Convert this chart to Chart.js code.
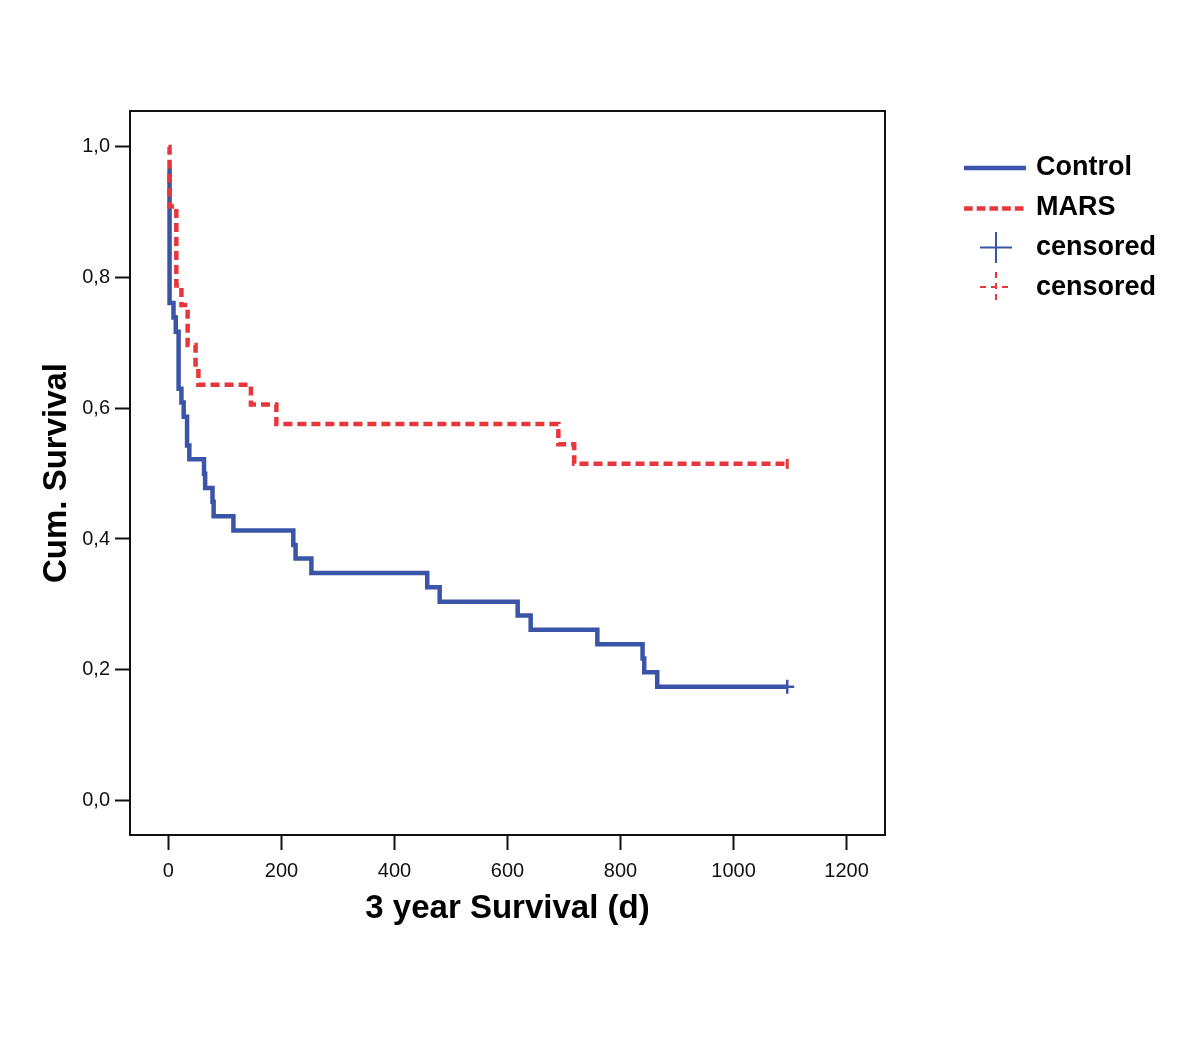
<!DOCTYPE html>
<html>
<head>
<meta charset="utf-8">
<script src="https://cdn.jsdelivr.net/npm/chart.js@4.4.1/dist/chart.umd.min.js"></script>
<style>
html,body{margin:0;padding:0;background:#fff;}
#wrap{width:1200px;height:1050px;position:relative;}
</style>
</head>
<body>
<div id="wrap"><canvas id="c" width="1200" height="1050"></canvas></div>
<script>
// ---- data ----
const controlDays = [0, 2, 9, 13, 18, 23, 27, 33, 37, 63, 65, 78, 80, 115, 221, 225, 253, 458, 480, 618, 641, 759, 839, 842, 865, 1095];
const controlSurv = [0.967, 0.761, 0.739, 0.717, 0.630, 0.609, 0.587, 0.543, 0.522, 0.500, 0.478, 0.457, 0.435, 0.413, 0.391, 0.370, 0.348, 0.326, 0.304, 0.283, 0.261, 0.239, 0.217, 0.196, 0.174, 0.174];
const marsDays = [0, 2, 14, 23, 34, 48, 53, 146, 191, 690, 718, 1095];
const marsSurv = [1.0, 0.909, 0.788, 0.758, 0.697, 0.667, 0.636, 0.606, 0.576, 0.545, 0.515, 0.515];
const controlCensoredDays = [1095];
const controlCensoredSurv = [0.174];
const marsCensoredDays = [1095];
const marsCensoredSurv = [0.515];
const xTicks = [0, 200, 400, 600, 800, 1000, 1200];
const yTicks = [0, 0.2, 0.4, 0.6, 0.8, 1.0];
const yTickLabels = ['0,0', '0,2', '0,4', '0,6', '0,8', '1,0'];
const seriesNames = ['Control', 'MARS'];
const censoredLabel = 'censored';
const xTitle = '3 year Survival (d)';
const yTitle = 'Cum. Survival';

const BLUE = '#3a55a8';
const RED = '#e8363c';
const FONT = '"Liberation Sans", Arial, sans-serif';

const toXY = (xs, ys) => xs.map((x, i) => ({x: x, y: ys[i]}));

const framePlugin = {
  id: 'frame',
  afterDatasetsDraw(chart) {
    const {ctx, chartArea: a} = chart;
    ctx.save();
    ctx.strokeStyle = '#111';
    ctx.lineWidth = 2;
    ctx.setLineDash([]);
    ctx.strokeRect(a.left, a.top, a.right - a.left, a.bottom - a.top);
    ctx.restore();
  }
};

const legendPlugin = {
  id: 'kmLegend',
  afterDraw(chart) {
    const ctx = chart.ctx;
    ctx.save();
    const seg = (x1, y1, x2, y2) => { ctx.beginPath(); ctx.moveTo(x1, y1); ctx.lineTo(x2, y2); ctx.stroke(); };
    ctx.font = 'bold 27px ' + FONT;
    ctx.fillStyle = '#000';
    ctx.textBaseline = 'middle';
    ctx.textAlign = 'left';
    const tx = 1036;
    ctx.lineCap = 'butt';
    // Control
    ctx.strokeStyle = BLUE; ctx.lineWidth = 4.5; ctx.setLineDash([]);
    seg(964, 168, 1026, 168);
    ctx.fillText(seriesNames[0], tx, 167.5);
    // MARS
    ctx.strokeStyle = RED; ctx.lineWidth = 4.5; ctx.setLineDash([8.7, 4]);
    seg(964, 208.5, 1026, 208.5);
    ctx.fillText(seriesNames[1], tx, 208);
    // censored control
    ctx.strokeStyle = BLUE; ctx.lineWidth = 2; ctx.setLineDash([]);
    seg(980, 247.5, 1012, 247.5);
    seg(996, 232, 996, 263);
    ctx.fillText(censoredLabel, tx, 247.5);
    // censored MARS
    ctx.strokeStyle = RED; ctx.lineWidth = 2; ctx.setLineDash([6, 5]);
    seg(980, 287, 1012, 287);
    seg(996, 272, 996, 303);
    ctx.fillText(censoredLabel, tx, 287.5);
    ctx.restore();
  }
};

new Chart(document.getElementById('c'), {
  type: 'line',
  data: {
    datasets: [
      {
        label: seriesNames[0] + ' ' + censoredLabel,
        data: toXY(controlCensoredDays, controlCensoredSurv),
        showLine: false,
        pointStyle: 'cross',
        pointRadius: 7,
        pointBorderWidth: 2.5,
        borderColor: BLUE,
        backgroundColor: BLUE,
        order: -1
      },
      {
        label: seriesNames[1] + ' ' + censoredLabel,
        data: toXY(marsCensoredDays, marsCensoredSurv),
        showLine: false,
        pointStyle: 'line',
        pointRotation: 90,
        pointRadius: 5,
        pointBorderWidth: 3,
        borderColor: RED,
        backgroundColor: RED,
        order: -1
      },
      {
        label: seriesNames[1],
        data: toXY(marsDays, marsSurv),
        stepped: true,
        borderColor: RED,
        borderWidth: 4.5,
        borderDash: [9, 5],
        borderCapStyle: 'butt',
        borderJoinStyle: 'miter',
        pointRadius: 0,
        fill: false,
        order: 0
      },
      {
        label: seriesNames[0],
        data: toXY(controlDays, controlSurv),
        stepped: true,
        borderColor: BLUE,
        borderWidth: 4.5,
        borderCapStyle: 'butt',
        borderJoinStyle: 'miter',
        pointRadius: 0,
        fill: false,
        order: 1
      }
    ]
  },
  options: {
    responsive: false,
    animation: false,
    devicePixelRatio: 1,
    layout: {padding: {top: 111, right: 315, left: 0, bottom: 0}},
    plugins: {legend: {display: false}, tooltip: {enabled: false}},
    scales: {
      x: {
        type: 'linear',
        min: -68,
        max: 1268,
        afterFit(s) { s.height = 215; },
        afterBuildTicks(s) { s.ticks = xTicks.map(v => ({value: v})); },
        grid: {drawOnChartArea: false, drawTicks: true, tickLength: 15, tickWidth: 2, tickColor: '#111'},
        border: {display: false},
        ticks: {font: {family: FONT, size: 20}, color: '#111', padding: 9, maxRotation: 0, autoSkip: false,
                callback: v => String(v)},
        title: {display: true, text: xTitle, font: {family: FONT, size: 33, weight: 'bold', lineHeight: 1.2},
                color: '#000', padding: {top: 0, bottom: 121}}
      },
      y: {
        type: 'linear',
        min: -0.053,
        max: 1.055,
        afterFit(s) { s.width = 130; },
        afterBuildTicks(s) { s.ticks = yTicks.map(v => ({value: v})); },
        grid: {drawOnChartArea: false, drawTicks: true, tickLength: 15, tickWidth: 2, tickColor: '#111'},
        border: {display: false},
        ticks: {font: {family: FONT, size: 20}, color: '#111', padding: 5, autoSkip: false,
                callback: function(v) { const i = yTicks.findIndex(t => Math.abs(t - v) < 1e-9); return i >= 0 ? yTickLabels[i] : ''; }},
        title: {display: true, text: yTitle, font: {family: FONT, size: 33, weight: 'bold', lineHeight: 1.2},
                color: '#000', padding: {top: 37, bottom: 0}}
      }
    }
  },
  plugins: [framePlugin, legendPlugin]
});
</script>
</body>
</html>
